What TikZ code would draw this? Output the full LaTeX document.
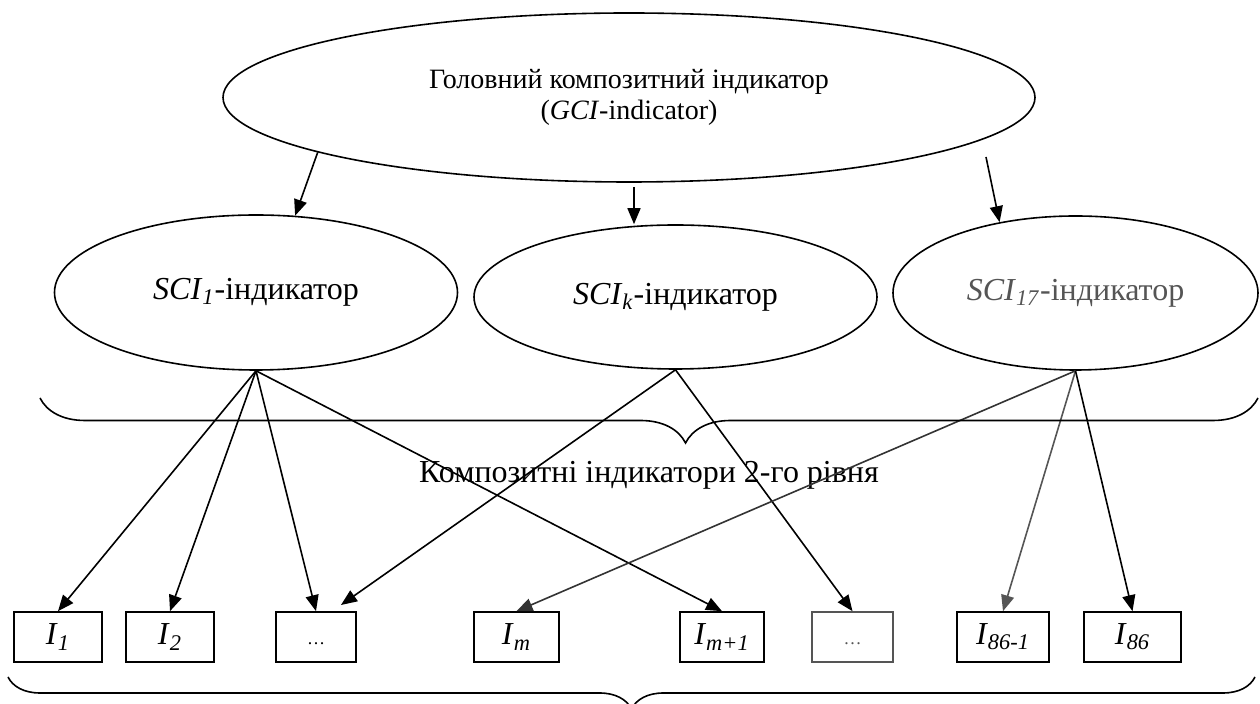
\documentclass[tikz,border=0pt]{standalone}
\usepackage{fontspec}
\setmainfont{Liberation Serif}
\usetikzlibrary{shapes.geometric,arrows.meta,decorations.pathreplacing}
\definecolor{fade}{HTML}{555555}

\begin{document}
\begin{tikzpicture}[x=0.5pt, y=-0.5pt, font=\fontsize{16}{18}\selectfont, line width=0.8pt,
    oval/.style = {draw, ellipse, inner sep=0pt},
    cell/.style = {draw, rectangle, minimum height=25pt, inner sep=0pt},
    arr/.style = {-{Triangle[length=8pt, width=6.5pt]}},
    curly/.style = {decorate, decoration={brace, mirror, amplitude=#1}}]
                    \useasboundingbox (0,0) rectangle (1260,704);
                    \node[oval, minimum width=406pt, minimum height=84.5pt, align=center, font=\fontsize{14}{15.5}\selectfont] (gci) at (629,97.5) {Головний композитний індикатор\\(\textit{GCI}-indicator)};
                    \node[oval, minimum width=201.5pt, minimum height=77.5pt] (sci1) at (256,292.5) {\textit{SCI}\textsubscript{\textit{1}}-індикатор};
                    \node[oval, minimum width=201.5pt, minimum height=72pt] (scik) at (675.5,297) {\textit{SCI}\textsubscript{\textit{k}}-індикатор};
                    \node[oval, minimum width=182.5pt, minimum height=77pt, text=fade] (sci17) at (1075.5,293) {\textit{SCI}\textsubscript{\textit{17}}-індикатор};
                    \node (lvl2) at (649,475) {Композитні індикатори 2-го рівня};
                    \node[cell, minimum width=44pt] (i1) at (58,637) {\textit{I}\textsubscript{\textit{1}}};
                    \node[cell, minimum width=44pt] (i2) at (170,637) {\textit{I}\textsubscript{\textit{2}}};
                    \node[cell, minimum width=40pt] (d1) at (316,637) {\vphantom{\textit{I}\textsubscript{1}}{\fontsize{9}{11}\selectfont …}};
                    \node[cell, minimum width=42.5pt] (im) at (516.5,637) {\textit{I}\textsubscript{\textit{m}}};
                    \node[cell, minimum width=42pt] (im1) at (722,637) {\textit{I}\textsubscript{\textit{m+1}}};
                    \node[cell, minimum width=40.5pt, draw=fade, text=fade] (d2) at (852.5,637) {\vphantom{\textit{I}\textsubscript{1}}{\fontsize{9}{11}\selectfont …}};
                    \node[cell, minimum width=46pt] (i85) at (1003,637) {\textit{I}\textsubscript{\textit{86-1}}};
                    \node[cell, minimum width=48.5pt] (i86) at (1132.5,637) {\textit{I}\textsubscript{\textit{86}}};
                    \coordinate (g2) at (634,187);
                    \coordinate (g3) at (986,157);
                    \coordinate (dA) at (341,605);
                    % top level to second level
                    \draw[arr] (gci.190) -- (sci1.63);
                    \draw[arr] (g2) -- ([xshift=-20.75pt]scik.north);
                    \draw[arr] (g3) -- (sci17.137);
                    % second level to indicators
                    \draw[arr] (sci1.south) -- (i1.north);
                    \draw[arr] (sci1.south) -- (i2.north);
                    \draw[arr] (sci1.south) -- (d1.north);
                    \draw[arr] (sci1.south) -- (im1.north);
                    \draw[arr] (scik.south) -- (dA);
                    \draw[arr] (scik.south) -- (d2.north);
                    \draw[arr, black!80] (sci17.south) -- (im.north);
                    \draw[arr, fade] (sci17.south) -- (i85.north);
                    \draw[arr] (sci17.south) -- (i86.north);
                    % braces
                    \draw[curly=22.5pt, decoration={aspect=0.53}] (40,398) -- (1258,398);
                    \draw[curly=16pt] (8,677) -- (1255,677);
                \end{tikzpicture}
\end{document}
